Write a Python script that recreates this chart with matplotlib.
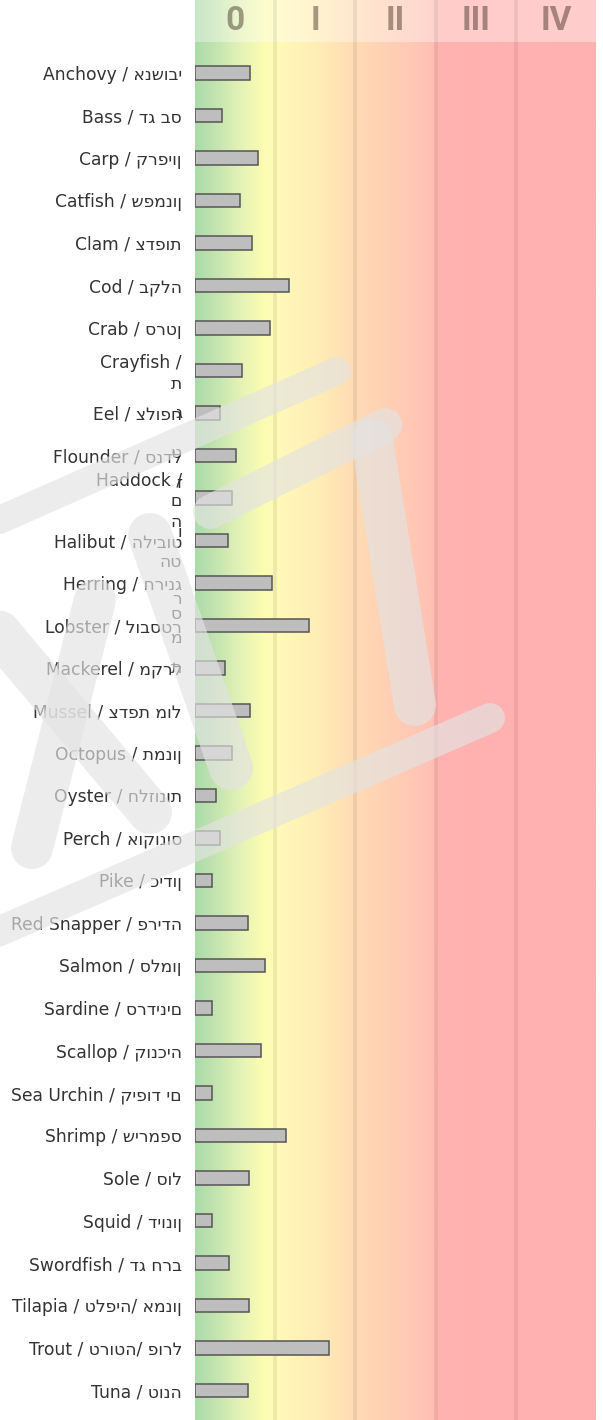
import numpy as np
import matplotlib
matplotlib.use("Agg")
import matplotlib.pyplot as plt
from matplotlib.colors import LinearSegmentedColormap
from matplotlib.lines import Line2D
from matplotlib.transforms import blended_transform_factory

# ---------------- data ----------------
species_en = ["Anchovy", "Bass", "Carp", "Catfish", "Clam", "Cod", "Crab", "Crayfish",
              "Eel", "Flounder", "Haddock", "Halibut", "Herring", "Lobster", "Mackerel",
              "Mussel", "Octopus", "Oyster", "Perch", "Pike", "Red Snapper", "Salmon",
              "Sardine", "Scallop", "Sea Urchin", "Shrimp", "Sole", "Squid", "Swordfish",
              "Tilapia", "Trout", "Tuna"]
species_he = ["אנשובי", "דג בס", "קרפיון", "שפמנון", "צדפות", "בקלה", "סרטן", "ת",
              "צלופח", "סנדל", "ם", "הליבוט", "חרינג", "לובסטר", "מקרל",
              "צדפת מול", "תמנון", "חלזונות", "אוקונוס", "כידון", "פרידה", "סלמון",
              "סרדינים", "קונכיה", "קיפוד ים", "שירמפס", "סול", "דיונון", "דג חרב",
              "טלפיה/ אמנון", "טרוטה/ פורל", "טונה"]
# labels that wrap letter by letter in the original rendering
wrapped = {"Crayfish": ["Crayfish /", "ת"],
           "Haddock": ["Haddock /", "ם", "ה"]}
# stray wrapped glyphs: (row, offset in rows, glyph)
fragments = [(8, 0.0, "ג"), (9, -0.05, "ט"), (10, -0.35, "ז"), (11, -0.2, "ו"),
             (12, -0.5, "הט"), (12, 0.38, "ר"), (12, 0.74, "ס"), (13, 0.3, "מ"),
             (14, 0.0, "ת")]
values = [0.68, 0.34, 0.78, 0.56, 0.71, 1.17, 0.93, 0.58,
          0.31, 0.51, 0.46, 0.41, 0.96, 1.42, 0.38,
          0.68, 0.46, 0.26, 0.31, 0.21, 0.66, 0.87,
          0.21, 0.82, 0.21, 1.13, 0.67, 0.21, 0.42,
          0.67, 1.67, 0.66]
levels = ["0", "I", "II", "III", "IV"]


def visual(en, he):
    if en in wrapped:
        return "\n".join(wrapped[en])
    return f"{en} / {he}"


labels = [visual(e, h) for e, h in zip(species_en, species_he)]

# ---------------- figure ----------------
W, H = 603, 1420
fig = plt.figure(figsize=(W / 100, H / 100), dpi=100)
fig.patch.set_facecolor("white")
x0, x1 = 195 / W, 596 / W
head = 42 / H
ax = fig.add_axes([x0, 0, x1 - x0, 1 - head])
hax = fig.add_axes([x0, 1 - head, x1 - x0, head])

stops = [
    (0.00, (172, 219, 170)),
    (0.05, (196, 228, 176)),
    (0.11, (228, 242, 182)),
    (0.17, (252, 252, 178)),
    (0.20, (255, 250, 184)),
    (0.30, (255, 238, 182)),
    (0.40, (255, 219, 180)),
    (0.50, (255, 205, 181)),
    (0.59, (255, 193, 180)),
    (0.61, (255, 179, 176)),
    (0.80, (255, 176, 176)),
    (1.00, (255, 178, 178)),
]
cmap = LinearSegmentedColormap.from_list(
    "risk", [(p, tuple(c / 255 for c in col)) for p, col in stops])
ncol = len(levels)
grad = np.linspace(0, 1, 600)[None, :]

n = len(species_en)
ypos = np.arange(n)
y_top = (42 - 73) / 42.5
y_bot = (1420 - 73) / 42.5

for a in (ax, hax):
    a.set_xlim(0, ncol)
    for s in a.spines.values():
        s.set_visible(False)
    for k in range(1, ncol):
        a.axvline(k, color="black", alpha=0.07, lw=2.6, zorder=1)

ax.imshow(grad, cmap=cmap, aspect="auto", extent=[0, ncol, y_bot, y_top], zorder=0)
ax.set_ylim(y_bot, y_top)
hax.imshow(grad, cmap=cmap, aspect="auto", extent=[0, ncol, 0, 1], zorder=0)
hax.set_ylim(0, 1)
hax.axhspan(0, 1, color="white", alpha=0.35, zorder=0.5, lw=0)
hax.set_xticks([])
hax.set_yticks([])
for i, lv in enumerate(levels):
    hax.text(i + 0.5, 0.5, lv, ha="center", va="center", fontsize=24,
             fontweight="bold", family="Roboto", color=(0.22, 0.16, 0.12),
             alpha=0.45)

ax.barh(ypos, values, height=0.31, color="#bebebe", edgecolor="#555555",
        linewidth=1.1, zorder=3)
ax.set_xticks([])
ax.set_yticks(ypos)
ax.set_yticklabels(labels, fontsize=12.3, color="#333333", family="DejaVu Sans")
ax.tick_params(axis="y", length=0, pad=9.4)

trans = blended_transform_factory(fig.transFigure, ax.transData)
for row, off, g in fragments:
    ax.text(182 / W, row + off, g, transform=trans, ha="right", va="center",
            fontsize=12.3, color="#333333", family="DejaVu Sans", clip_on=False)

# ---------------- watermark ----------------
def stroke(pts, w):
    xs = [p[0] / W for p in pts]
    ys = [1 - p[1] / H for p in pts]
    fig.add_artist(Line2D(xs, ys, transform=fig.transFigure, color="#e3e3e3",
                          alpha=0.66, lw=w * 0.72, solid_capstyle="round",
                          solid_joinstyle="round", zorder=20))

stroke([(-30, 533), (337, 371)], 28)
stroke([(-30, 944), (490, 718)], 30)
stroke([(210, 512), (385, 425)], 34)
stroke([(372, 440), (415, 705)], 42)
stroke([(-20, 610), (150, 812)], 44)
stroke([(32, 848), (95, 600)], 42)
stroke([(150, 535), (231, 768)], 44)

fig.savefig("out.png", dpi=100)
